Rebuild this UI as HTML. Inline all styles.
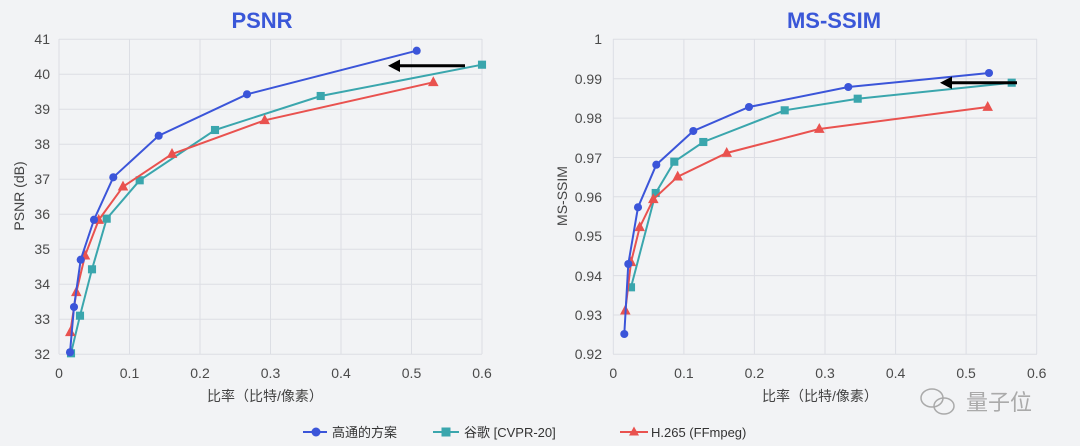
<!DOCTYPE html>
<html><head><meta charset="utf-8"><style>
body{margin:0;background:#f2f3f5;}
svg{display:block;font-family:"Liberation Sans","Noto Sans CJK SC",sans-serif;}
</style></head><body>
<svg width="1080" height="446" viewBox="0 0 1080 446">
<rect width="1080" height="446" fill="#f2f3f5"/>
<defs>
<marker id="c" viewBox="0 0 10 10" refX="5" refY="5" markerWidth="9" markerHeight="9" markerUnits="userSpaceOnUse"><circle cx="5" cy="5" r="4.5" fill="#3b55d9"/></marker>
<marker id="s" viewBox="0 0 10 10" refX="5" refY="5" markerWidth="9" markerHeight="9" markerUnits="userSpaceOnUse"><rect x="0.5" y="0.5" width="9" height="9" fill="#3aa6ad"/></marker>
<marker id="t" viewBox="0 0 10 10" refX="5" refY="6" markerWidth="11" markerHeight="11" markerUnits="userSpaceOnUse"><polygon points="5,0.5 9.8,9.5 0.2,9.5" fill="#e9524f"/></marker>
</defs>
<g stroke="#dcdee4" stroke-width="1">
<line x1="59" y1="39.3" x2="482" y2="39.3"/><line x1="59" y1="74.3" x2="482" y2="74.3"/><line x1="59" y1="109.3" x2="482" y2="109.3"/><line x1="59" y1="144.3" x2="482" y2="144.3"/><line x1="59" y1="179.3" x2="482" y2="179.3"/><line x1="59" y1="214.3" x2="482" y2="214.3"/><line x1="59" y1="249.3" x2="482" y2="249.3"/><line x1="59" y1="284.3" x2="482" y2="284.3"/><line x1="59" y1="319.3" x2="482" y2="319.3"/><line x1="59" y1="354.3" x2="482" y2="354.3"/>
<line x1="59" y1="39" x2="59" y2="354"/><line x1="129.5" y1="39" x2="129.5" y2="354"/><line x1="200" y1="39" x2="200" y2="354"/><line x1="270.5" y1="39" x2="270.5" y2="354"/><line x1="341" y1="39" x2="341" y2="354"/><line x1="411.5" y1="39" x2="411.5" y2="354"/><line x1="482" y1="39" x2="482" y2="354"/>
<line x1="613" y1="39.3" x2="1037" y2="39.3"/><line x1="613" y1="78.7" x2="1037" y2="78.7"/><line x1="613" y1="118.1" x2="1037" y2="118.1"/><line x1="613" y1="157.5" x2="1037" y2="157.5"/><line x1="613" y1="196.8" x2="1037" y2="196.8"/><line x1="613" y1="236.2" x2="1037" y2="236.2"/><line x1="613" y1="275.6" x2="1037" y2="275.6"/><line x1="613" y1="315" x2="1037" y2="315"/><line x1="613" y1="354.3" x2="1037" y2="354.3"/>
<line x1="613.3" y1="39" x2="613.3" y2="354"/><line x1="683.9" y1="39" x2="683.9" y2="354"/><line x1="754.4" y1="39" x2="754.4" y2="354"/><line x1="825" y1="39" x2="825" y2="354"/><line x1="895.6" y1="39" x2="895.6" y2="354"/><line x1="966.1" y1="39" x2="966.1" y2="354"/><line x1="1036.7" y1="39" x2="1036.7" y2="354"/>
</g>
<g font-size="14" fill="#4a4a4a" text-anchor="end">
<text x="50" y="44">41</text><text x="50" y="79">40</text><text x="50" y="114">39</text><text x="50" y="149">38</text><text x="50" y="184">37</text><text x="50" y="219">36</text><text x="50" y="254">35</text><text x="50" y="289">34</text><text x="50" y="324">33</text><text x="50" y="359">32</text>
<text x="602" y="44">1</text><text x="602" y="84">0.99</text><text x="602" y="123">0.98</text><text x="602" y="163">0.97</text><text x="602" y="202">0.96</text><text x="602" y="241">0.95</text><text x="602" y="281">0.94</text><text x="602" y="320">0.93</text><text x="602" y="359">0.92</text>
</g>
<g font-size="14" fill="#4a4a4a" text-anchor="middle">
<text x="59" y="378">0</text><text x="129.5" y="378">0.1</text><text x="200" y="378">0.2</text><text x="270.5" y="378">0.3</text><text x="341" y="378">0.4</text><text x="411.5" y="378">0.5</text><text x="482" y="378">0.6</text>
<text x="613.3" y="378">0</text><text x="683.9" y="378">0.1</text><text x="754.4" y="378">0.2</text><text x="825" y="378">0.3</text><text x="895.6" y="378">0.4</text><text x="966.1" y="378">0.5</text><text x="1036.7" y="378">0.6</text>
</g>
<g font-size="14" fill="#444" text-anchor="middle">
<text x="265" y="401">比率（比特/像素）</text>
<text x="820" y="401">比率（比特/像素）</text>
<text transform="translate(24,196) rotate(-90)">PSNR (dB)</text>
<text transform="translate(567,196) rotate(-90)">MS-SSIM</text>
</g>
<text x="262" y="28" font-size="22" font-weight="bold" fill="#3a57d8" text-anchor="middle">PSNR</text>
<text x="834" y="28" font-size="22" font-weight="bold" fill="#3a57d8" text-anchor="middle">MS-SSIM</text>
<g fill="none" stroke-width="2">
<polyline stroke="#3aa6ad" marker-start="url(#s)" marker-mid="url(#s)" marker-end="url(#s)" points="71,353.3 80,315.7 92,269.3 106.7,218.7 139.7,180.3 215,130 320.7,96 482,64.7"/>
<polyline stroke="#e9524f" marker-start="url(#t)" marker-mid="url(#t)" marker-end="url(#t)" points="70.3,332.3 76.3,292.3 85,255.7 98.7,220 123,186.7 172,154 264.7,120.3 433.3,82.3"/>
<polyline stroke="#3b55d9" marker-start="url(#c)" marker-mid="url(#c)" marker-end="url(#c)" points="70,352.3 74,307 80.7,259.7 94,219.7 113.3,177.3 158.7,135.7 247,94.3 416.7,50.7"/>
<polyline stroke="#3aa6ad" marker-start="url(#s)" marker-mid="url(#s)" marker-end="url(#s)" points="631,287.3 655.7,193 674.3,161.7 703.3,142 784.7,110.3 857.7,98.7 1011.7,82.7"/>
<polyline stroke="#e9524f" marker-start="url(#t)" marker-mid="url(#t)" marker-end="url(#t)" points="625.3,310.7 631,262.3 639.7,227.3 653.3,199.3 677.7,176.7 726.7,153 819.3,129 987.7,107"/>
<polyline stroke="#3b55d9" marker-start="url(#c)" marker-mid="url(#c)" marker-end="url(#c)" points="624.3,334 628.3,264 638,207.3 656.3,164.7 693.3,131 749,107 848.3,87 989,73"/>
</g>
<g stroke="#000" stroke-width="3" fill="#000">
<line x1="465" y1="65.7" x2="396" y2="65.7"/><polygon points="388,65.7 400,59.5 400,72" stroke="none"/>
<line x1="1017" y1="82.7" x2="949" y2="82.7"/><polygon points="940,82.7 952,76.5 952,89" stroke="none"/>
</g>
<g font-size="22" fill="#999">
<ellipse cx="932" cy="398" rx="11" ry="9" fill="none" stroke="#aaa" stroke-width="1.5"/>
<ellipse cx="944" cy="406" rx="10" ry="8" fill="none" stroke="#aaa" stroke-width="1.5"/>
<text x="966" y="410" fill="#aaa">量子位</text>
</g>
<g stroke-width="2" fill="none">
<line x1="303" y1="432" x2="327" y2="432" stroke="#3b55d9"/>
<line x1="433" y1="432" x2="459" y2="432" stroke="#3aa6ad"/>
<line x1="620" y1="432" x2="648" y2="432" stroke="#e9524f"/>
</g>
<circle cx="316" cy="432" r="4.5" fill="#3b55d9"/>
<rect x="441.5" y="427.5" width="9" height="9" fill="#3aa6ad"/>
<polygon points="634,426.5 639,435.5 629,435.5" fill="#e9524f"/>
<g font-size="13" fill="#333">
<text x="332" y="437">高通的方案</text>
<text x="464" y="437">谷歌 [CVPR-20]</text>
<text x="651" y="437">H.265 (FFmpeg)</text>
</g>
</svg>
</body></html>
